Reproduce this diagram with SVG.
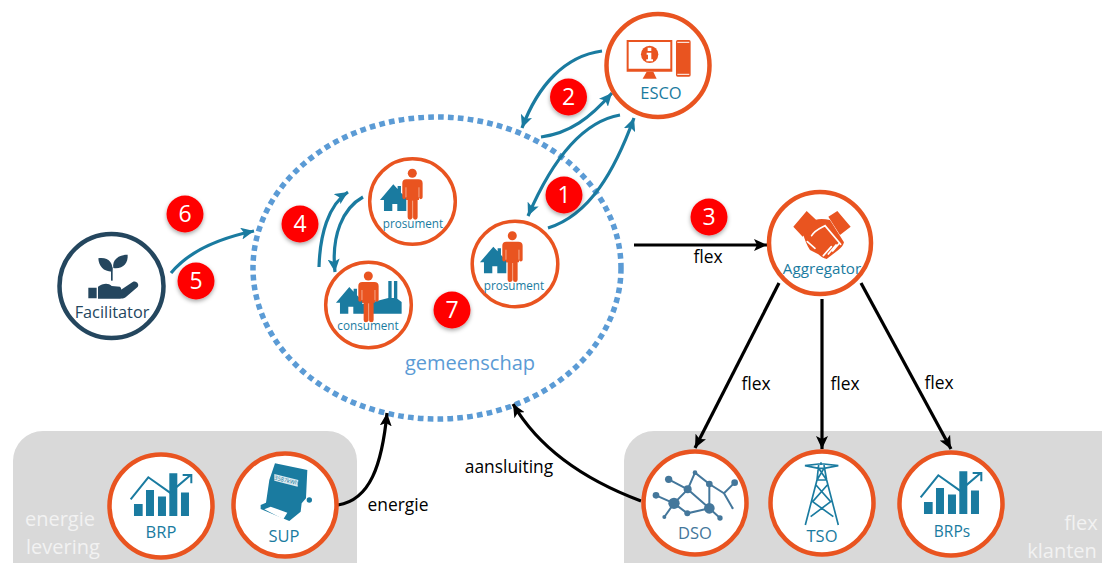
<svg xmlns="http://www.w3.org/2000/svg" xmlns:xlink="http://www.w3.org/1999/xlink" width="1102" height="563" viewBox="0 0 1102 563">
<style>
text{font-family:"Open Sans","Noto Sans",sans-serif;text-anchor:middle}
.ring{fill:#fff;stroke:#E95420;stroke-width:4.5}
.sring{fill:#fff;stroke:#E95420;stroke-width:3.5}
.t{fill:#1A7BA0;font-size:16.5px}
.ts{fill:#1A7BA0;font-size:11.7px}
.k{fill:#000;font-size:17.4px}
.w{fill:#F2F2F2;font-size:20px}
.bt{fill:#fff;font-size:23px}
.badge{fill:#F00;filter:url(#sh)}
.ct{fill:none;stroke:#1A7BA0;stroke-width:3.2;marker-end:url(#ah)}
.cb{fill:none;stroke:#000;stroke-width:3.2;marker-end:url(#ak)}
.panel{fill:#D9D9D9}
.teal{fill:#1A7BA0}
.org{fill:#E95420}
</style>
<defs>
<filter id="sh" x="-30%" y="-30%" width="160%" height="170%"><feDropShadow dx="0" dy="2" stdDeviation="2" flood-color="#000" flood-opacity=".35"/></filter>
<marker id="ah" markerUnits="userSpaceOnUse" markerWidth="14" markerHeight="12" refX="13" refY="6" orient="auto"><path d="M0,0L13,6L0,12L3,6Z" fill="#1A7BA0"/></marker>
<marker id="ak" markerUnits="userSpaceOnUse" markerWidth="14" markerHeight="12" refX="13" refY="6" orient="auto"><path d="M0,0L13,6L0,12L3,6Z" fill="#000"/></marker>
<g id="person"><circle cx="0" cy="0" r="13.5" class="org"/><path class="org" d="M-18,18H18Q31,18 31,30V72a5.500,5.500 0 0 1-11,0V80H16V132a7,7 0 0 1-14,0Q1,138 0,132a7,7 0 0 1-14,0V80H-19V72a5.500,5.500 0 0 1-11,0V30Q-30,18-18,18Z"/><path fill="none" stroke="#F8B89E" stroke-width="2.500" d="M1,82V134M-19,42V72M20,42V72"/></g>
<path id="house" class="teal" d="M-97,80L-57,33L-44,47V38H-34V58L-12,80H-18V113H-45V92H-60V113H-85V80Z"/>
<g id="chart"><path class="teal" d="M402,252h26v36h-26zM438,210h24v78h-24zM474,230h24v58h-24zM508,160h24v128h-24zM543,218h24v70h-24z"/><path fill="none" stroke="#1A7BA0" stroke-width="6" d="M392,238L445,172L510,218L572,165M548,165H574V190"/></g>
</defs>

<rect class="panel" x="13" y="431" width="344" height="170" rx="30"/>
<rect class="panel" x="624" y="431" width="520" height="170" rx="30"/>
<ellipse cx="437" cy="268" rx="184" ry="151" fill="none" stroke="#5B9BD5" stroke-width="5.500" stroke-dasharray="5.700 4.200"/>
<text x="470" y="370" fill="#5B9BD5" font-size="20">gemeenschap</text>
<text class="w" x="60" y="526">energie</text>
<text class="w" x="63" y="554">levering</text>
<text class="w" x="1081" y="530">flex</text>
<text class="w" x="1062" y="558">klanten</text>

<g id="connectors">
<path class="ct" d="M602,51C565,56 538,85 522,128"/>
<path class="ct" d="M541,137C570,133 590,118 612,93"/>
<path class="ct" d="M620,115C580,122 550,165 528,216"/>
<path class="ct" d="M548,228C590,215 615,170 634,118"/>
<path class="ct" d="M319,267C320,235 328,205 348,192"/>
<path class="ct" d="M363,197C343,208 331,235 335,272"/>
<path class="ct" d="M171,273C190,250 220,238 254,231"/>
<path class="cb" d="M634,245H767"/>
<path class="cb" d="M779,283L695,448"/>
<path class="cb" d="M822,299V449"/>
<path class="cb" d="M861,283L951,449"/>
<path class="cb" d="M338,505C370,500 382,465 387,413"/>
<path class="cb" d="M641,501C585,480 540,450 513,404"/>
<text class="k" x="708" y="263">flex</text>
<text class="k" x="756" y="390">flex</text>
<text class="k" x="845" y="390">flex</text>
<text class="k" x="939" y="389">flex</text>
<text class="k" x="509" y="473">aansluiting</text>
<text class="k" x="398" y="511">energie</text>
</g>

<g id="esco"><circle class="ring" cx="658" cy="65.500" r="51.500"/>
<g transform="translate(470,0) scale(.3333)">
<path class="org" d="M470,120H607V215H470ZM476,126V206H601V126Z" fill-rule="evenodd"/>
<path class="org" d="M530,215H550L560,236H518Z"/>
<circle class="org" cx="539" cy="163" r="26"/>
<path fill="#fff" d="M533,143h11v10h-11zM530,158h14v20h5v6h-20v-6h5v-14h-4z"/>
<rect class="org" x="618" y="120" width="44" height="110" rx="5"/>
<path fill="none" stroke="#fff" stroke-width="3" d="M622,127H658M622,223H658"/>
</g>
<text class="t" x="661" y="99">ESCO</text></g>

<g id="aggregator"><circle class="ring" cx="820" cy="243" r="51"/>
<g transform="translate(760,185) scale(.3333)">
<path class="org" d="M100,125L140,78L172,108L128,155ZM205,95L232,78L272,125L240,150Z"/>
<path class="org" d="M165,105C180,100 195,102 210,105L252,172C250,180 245,188 235,195L200,222C190,220 182,215 175,208L150,195C140,180 135,165 130,150Z"/>
<path fill="none" stroke="#fff" stroke-width="5" stroke-linecap="round" d="M155,152C165,135 180,130 195,122L242,178M190,212L214,185M205,207L228,180M218,198L238,175M142,170L165,190"/>
</g>
<text class="t" x="822" y="274" style="font-size:15.200px">Aggregator</text></g>

<g id="facilitator"><circle cx="111.500" cy="286" r="52" fill="#fff" stroke="#24465E" stroke-width="4.500"/>
<g transform="translate(40,190) scale(.3333)" fill="#24465E">
<path d="M145,293h25v32h-25zM174,290C188,280 205,278 215,288L240,290C248,298 242,306 232,306L250,295L278,276C290,270 300,285 292,292L257,322C252,326 245,326 240,326H174Z"/>
<path d="M175,205C205,200 222,220 216,245C190,245 176,228 175,205ZM263,194C265,220 248,238 220,234C216,210 235,194 263,194Z"/>
<path d="M213,232h5v40h-5z"/>
</g>
<text x="112" y="318" fill="#24465E" style="font-size:16.300px">Facilitator</text></g>

<g id="prosument1"><circle class="sring" cx="412.500" cy="201.500" r="42.800"/>
<g transform="translate(412.300,173.300) scale(.3333)"><use href="#house"/><use href="#person"/></g>
<text class="ts" x="413" y="228">prosument</text></g>

<g id="prosument2"><circle class="sring" cx="515" cy="264" r="42.800"/>
<g transform="translate(512.300,235.700) scale(.3333)"><use href="#house"/><use href="#person"/></g>
<text class="ts" x="514" y="290">prosument</text></g>

<g id="consument"><circle class="sring" cx="368.500" cy="305" r="42.800"/>
<g transform="translate(368.300,276) scale(.3333)"><use href="#house"/>
<path class="teal" d="M-20,85L25,75L60,66V15H70V66H77V15H87V68L100,78V113H-20Z"/><use href="#person"/></g>
<text class="ts" x="368" y="330">consument</text></g>

<g id="brp"><circle class="ring" cx="161" cy="506" r="51.500"/>
<g transform="scale(.3333) translate(0,1260)"><use href="#chart"/></g>
<text class="t" x="161" y="538">BRP</text></g>

<g id="sup"><circle class="ring" cx="285" cy="505" r="51.500"/>
<g transform="translate(230,450) scale(.3333)">
<path class="teal" d="M135,40L232,60L228,145L215,160L212,185L178,213L92,177L92,165L108,158L118,90Z"/>
<circle class="teal" cx="238" cy="150" r="8"/>
<path fill="#fff" d="M103,178L122,170L172,188L160,208Z"/>
<path fill="#DCEAF0" d="M133,72L205,90L203,110L133,92Z"/>
<text transform="translate(168,97) rotate(13)" fill="#1A7BA0" style="font-size:17px">3587kWh</text>
</g>
<text class="t" x="284" y="542">SUP</text></g>

<g id="dso"><circle class="ring" cx="695" cy="503" r="51.500"/>
<g transform="translate(620,430) scale(.3333)" fill="#44779B">
<path fill="none" stroke="#44779B" stroke-width="6" d="M146,148L203,178M108,196L162,220M162,220L203,178L225,128L268,162V235M203,178L268,235M162,220L202,250L268,235M162,220L133,261M268,235L300,264M268,162L312,190L344,158M312,190L338,235"/>
<circle cx="146" cy="148" r="11"/><circle cx="108" cy="196" r="10"/><circle cx="162" cy="220" r="17"/><circle cx="203" cy="178" r="12"/><circle cx="225" cy="128" r="7"/><circle cx="268" cy="162" r="10"/><circle cx="344" cy="158" r="10"/><circle cx="268" cy="235" r="16"/><circle cx="202" cy="250" r="9"/><circle cx="133" cy="261" r="6"/><circle cx="300" cy="264" r="8"/><circle cx="338" cy="235" r="3"/>
</g>
<text x="695" y="539" fill="#44779B" style="font-size:16.500px">DSO</text></g>

<g id="tso"><circle class="ring" cx="822" cy="503" r="51.500"/>
<path transform="translate(620,430) scale(.3333)" fill="none" stroke="#1A7BA0" stroke-width="5" d="M555,107L596,102H612L655,107L612,115H596ZM603,97V105M596,105L591,150L556,285M612,105L620,150L655,285M591,150H620M596,115L620,150M612,115L591,150M588,165L632,215L572,260M622,165L578,215L640,260"/>
<text class="t" x="822" y="542">TSO</text></g>

<g id="brps"><circle class="ring" cx="951" cy="504" r="51.500"/>
<g transform="translate(790,-2) scale(.3333) translate(0,1260)"><use href="#chart"/></g>
<text class="t" x="952" y="537" style="font-size:15.500px">BRPs</text></g>

<g id="badges">
<circle class="badge" cx="568.500" cy="97" r="18.500"/><text class="bt" x="568.500" y="105">2</text>
<circle class="badge" cx="564" cy="195" r="18.500"/><text class="bt" x="564" y="203">1</text>
<circle class="badge" cx="709" cy="217" r="18.500"/><text class="bt" x="709" y="225">3</text>
<circle class="badge" cx="300" cy="224" r="18.500"/><text class="bt" x="300" y="232">4</text>
<circle class="badge" cx="185" cy="214" r="18.500"/><text class="bt" x="185" y="222">6</text>
<circle class="badge" cx="196" cy="281" r="18.500"/><text class="bt" x="196" y="289">5</text>
<circle class="badge" cx="452" cy="310" r="18.500"/><text class="bt" x="452" y="318">7</text>
</g>
</svg>
